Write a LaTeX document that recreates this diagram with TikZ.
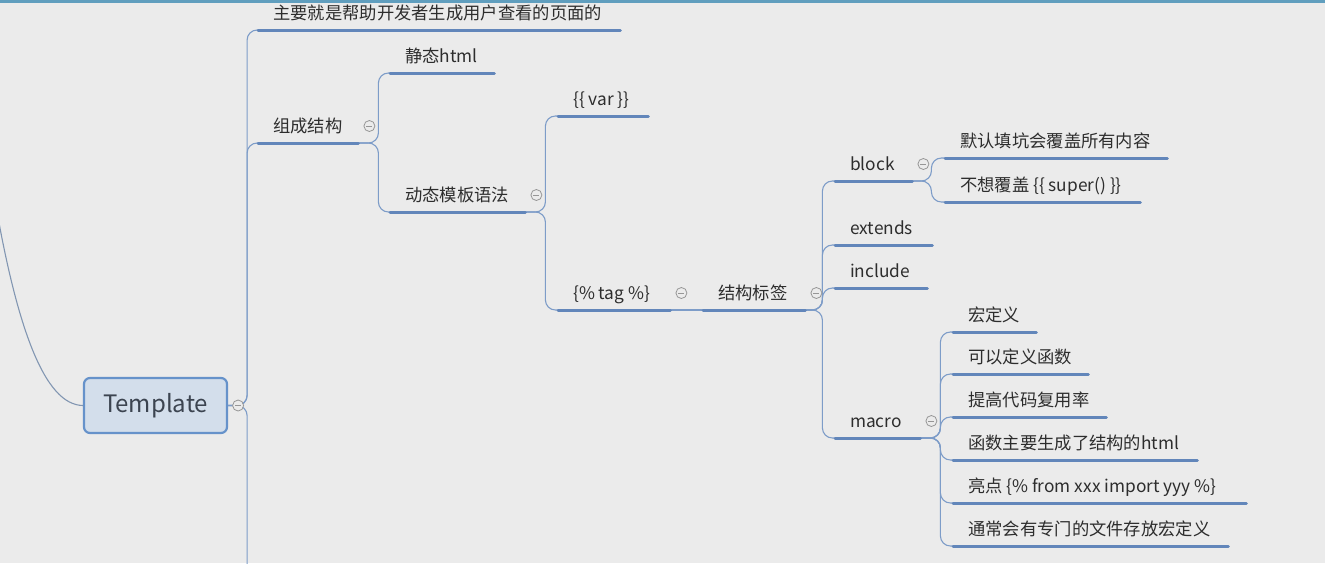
\documentclass[tikz,border=0pt]{standalone}
\usepackage{fontspec}
\setmainfont{Noto Sans CJK SC}
\usetikzlibrary{calc}
\definecolor{bg}{RGB}{235,235,235}
\definecolor{ulc}{RGB}{98,134,186}
\definecolor{connc}{RGB}{125,156,200}
\definecolor{txt}{RGB}{45,45,45}
\definecolor{topbar}{RGB}{96,158,190}
\definecolor{rootfill}{RGB}{211,222,235}
\definecolor{rootdraw}{RGB}{102,146,202}
\definecolor{rootc}{RGB}{60,68,80}
\definecolor{collc}{RGB}{150,150,150}
\definecolor{inc}{RGB}{130,150,178}
\newcommand\tpc[2]{\makebox[#1pt][l]{\hspace*{15pt}#2}}
\begin{document}
\begin{tikzpicture}[x=1pt,y=-1pt,
  topic/.style={anchor=south west, inner sep=0pt, text height=14pt, text depth=10pt,
    font=\fontsize{17.3}{20}\selectfont, text=txt},
  ul/.style={draw=ulc, line width=3pt, line cap=round},
  conn/.style={draw=connc, line width=1.1pt, rounded corners=10pt},
  coll/.style={circle, draw=collc, fill=bg, line width=0.8pt, minimum size=11pt, inner sep=0pt,
    path picture={\draw[collc, line width=0.8pt] ([xshift=-3pt]path picture bounding box.center) -- ([xshift=3pt]path picture bounding box.center);}},
  root/.style={rectangle, rounded corners=6pt, draw=rootdraw, line width=2.2pt, fill=rootfill,
    minimum width=143pt, minimum height=55pt, font=\fontsize{24}{28}\selectfont, text=rootc}
]
\useasboundingbox (0,0) rectangle (1325,563);
\clip (0,0) rectangle (1325,563);
\fill[bg] (0,0) rectangle (1325,563);
\fill[topbar] (0,0) rectangle (1325,2.5);

% root
\node[root] (T) at (155.5,405.5) {Template};

% topics
\node[topic] (main) at (258,30) {\tpc{362}{主要就是帮助开发者生成用户查看的页面的}};
\node[topic] (zc) at (258,143) {\tpc{100}{组成结构}};
\node[topic] (jt) at (390,73) {\tpc{104}{静态html}};
\node[topic] (dt) at (390,212) {\tpc{135}{动态模板语法}};
\node[topic] (var) at (558,116) {\tpc{90}{\{\{ var \}\}}};
\node[topic] (tag) at (558,310) {\tpc{112}{\{\% tag \%\}}};
\node[topic] (jg) at (703,310) {\tpc{102}{结构标签}};
\node[topic] (blk) at (835,181) {\tpc{77}{block}};
\node[topic] (ext) at (835,245) {\tpc{97}{extends}};
\node[topic] (inc) at (835,288) {\tpc{92}{include}};
\node[topic] (mac) at (835,438) {\tpc{85}{macro}};
\node[topic] (b1) at (945,158) {\tpc{222}{默认填坑会覆盖所有内容}};
\node[topic] (b2) at (945,202) {\tpc{195}{不想覆盖 \{\{ super() \}\}}};
\node[topic] (m1) at (953,332) {\tpc{83}{宏定义}};
\node[topic] (m2) at (953,374) {\tpc{135}{可以定义函数}};
\node[topic] (m3) at (953,417) {\tpc{153}{提高代码复用率}};
\node[topic] (m4) at (953,460) {\tpc{244}{函数主要生成了结构的html}};
\node[topic] (m5) at (953,503) {\tpc{293}{亮点 \{\% from xxx import yyy \%\}}};
\node[topic] (m6) at (953,546) {\tpc{275}{通常会有专门的文件存放宏定义}};

\coordinate (up) at (-10,170);
\coordinate (down) at (258,600);

% incoming curve
\draw[draw=inc, line width=1.1pt] (up) .. controls (15,330) and (45,405) .. (T.west);

% connectors
\foreach \c in {main,zc,down}
  \draw[conn] (T.east) -- ++(19,0) |- (\c.south west);
\foreach \c in {jt,dt}
  \draw[conn] (zc.south east) -- ++(20,0) |- (\c.south west);
\foreach \c in {var,tag}
  \draw[conn] (dt.south east) -- ++(20,0) |- (\c.south west);
\draw[conn] (tag.south east) -- (jg.south west);
\foreach \c in {blk,ext,inc,mac}
  \draw[conn] (jg.south east) -- ++(17,0) |- (\c.south west);
\foreach \c in {b1,b2}
  \draw[conn] (blk.south east) -- ++(19,0) |- (\c.south west);
\foreach \c in {m1,m2,m3,m4,m5,m6}
  \draw[conn] (mac.south east) -- ++(20,0) |- (\c.south west);

% underlines
\foreach \n in {main,zc,jt,dt,var,tag,jg,blk,ext,inc,mac,b1,b2,m1,m2,m3,m4,m5,m6}
  \draw[ul] (\n.south west) -- (\n.south east);

% collapse markers
\node[coll] (cT) at ($(T.east)+(10,0)$) {};
\foreach \n in {zc,dt,tag,jg,blk,mac}
  \node[coll] (c\n) at ($(\n.south east)+(11,-17)$) {};
\end{tikzpicture}
\end{document}
